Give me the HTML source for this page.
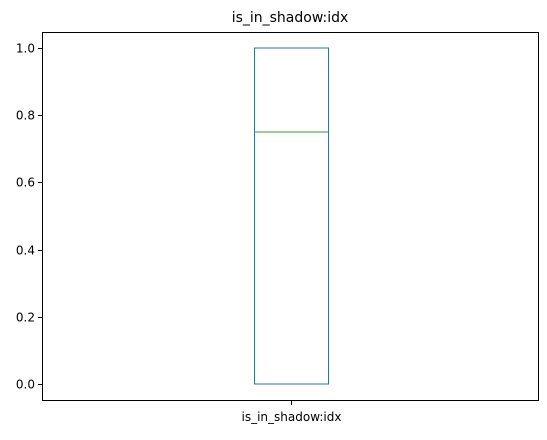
<!DOCTYPE html>
<html><head><meta charset="utf-8"><style>
body{margin:0;background:#fff}
svg text{font-family:"DejaVu Sans","Liberation Sans",sans-serif;fill:#000}
</style></head><body>
<svg id="chart" width="547" height="435">
<rect x="42.5" y="32.5" width="496" height="368" fill="none" stroke="#000" stroke-width="1"/>
<text x="290" y="22" text-anchor="middle" font-size="14">is_in_shadow:idx</text>
<g id="yaxis"></g>
<g id="xaxis"></g>
<g id="boxes"></g>
</svg>
<script>
const categories=["is_in_shadow:idx"];
const q1Values=[0];
const medianValues=[0.75];
const q3Values=[1];
const whiskerLow=[0];
const whiskerHigh=[1];
const yTicks=[0,0.2,0.4,0.6,0.8,1.0];
const yTickLabels=["0.0","0.2","0.4","0.6","0.8","1.0"];
const NS="http://www.w3.org/2000/svg";
const y0=384,y1=48,yMin=0,yMax=1;
function yScale(v){return y0-(v-yMin)/(yMax-yMin)*(y0-y1);}
const plotL=42.5,plotR=538.5;
function xScale(i){return plotL+(plotR-plotL)*(i+0.5)/categories.length;}
function mk(tag,attrs,parent){const e=document.createElementNS(NS,tag);for(const k in attrs)e.setAttribute(k,attrs[k]);parent.appendChild(e);return e;}
const ya=document.getElementById('yaxis');
yTicks.forEach((t,i)=>{
  const y=Math.round(yScale(t))+0.5;
  const l=mk('line',{x1:38,x2:42.5,y1:y,y2:y,stroke:'#000'},ya);
  
  
  const tx=mk('text',{x:35,y:y+4,'text-anchor':'end','font-size':'12'},ya);
  tx.textContent=yTickLabels[i];
  
  
});
const xa=document.getElementById('xaxis');
const bx=document.getElementById('boxes');
const halfW=37;
categories.forEach((c,i)=>{
  const x=Math.round(xScale(i))+0.5;
  const l=mk('line',{x1:x,x2:x,y1:400.5,y2:405,stroke:'#000'},xa);
  
  
  const tx=mk('text',{x:x,y:421,'text-anchor':'middle','font-size':'12'},xa);
  tx.textContent=c;
  
  
  const r=mk('rect',{x:x-halfW,y:yScale(q3Values[i]),width:2*halfW,height:yScale(q1Values[i])-yScale(q3Values[i]),fill:'none',stroke:'#1f77b4','stroke-width':1},bx);
  
  
  const m=mk('line',{x1:x-halfW,x2:x+halfW,y1:yScale(medianValues[i]),y2:yScale(medianValues[i]),stroke:'#2ca02c','stroke-width':1},bx);
  
  
  [[whiskerLow[i],q1Values[i]],[whiskerHigh[i],q3Values[i]]].forEach(([w,q])=>{
    const wl=mk('line',{x1:x,x2:x,y1:yScale(w),y2:yScale(q),stroke:'#1f77b4'},bx);
    
    
    const cap=mk('line',{x1:x-18,x2:x+18,y1:yScale(w),y2:yScale(w),stroke:'#1f77b4'},bx);
    
    
  });
});
</script>
</body></html>
